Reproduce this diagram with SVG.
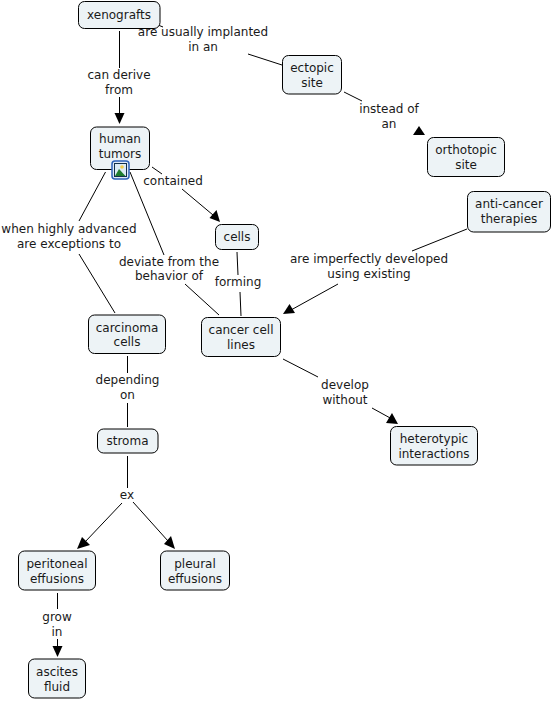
<svg xmlns="http://www.w3.org/2000/svg" width="553" height="701" viewBox="0 0 553 701">
<style>
text{font-family:"DejaVu Sans",Verdana,sans-serif;font-size:12px;fill:#1a1a1a;text-anchor:middle}
.n rect{fill:#edf3f6;stroke:#000;stroke-width:1}
#c line{stroke:#000;stroke-width:1}
#c polygon{fill:#000}
</style>
<rect width="553" height="701" fill="#fff"/>
<g id="c">
<line x1="119.500" y1="31" x2="119.500" y2="68"/>
<line x1="119.500" y1="97" x2="119.500" y2="114"/>
<polygon points="114.500,113 124.500,113 119.500,124"/>
<line x1="158" y1="25" x2="163" y2="27"/>
<line x1="248" y1="54" x2="282" y2="65"/>
<line x1="344" y1="92" x2="362" y2="101"/>
<polygon points="413,135 425,135 419,126"/>
<line x1="152" y1="167" x2="162" y2="174"/>
<line x1="182" y1="189" x2="213" y2="215"/>
<polygon points="209.500,218 216.500,210 220,222"/>
<line x1="105.500" y1="172" x2="79" y2="221"/>
<line x1="79" y1="254" x2="115" y2="313"/>
<line x1="130" y1="172" x2="164" y2="255"/>
<line x1="185" y1="284" x2="219" y2="315"/>
<line x1="237" y1="252" x2="238" y2="275"/>
<line x1="240" y1="292" x2="241" y2="316"/>
<line x1="467" y1="229" x2="412" y2="251"/>
<line x1="338" y1="284" x2="291" y2="310"/>
<polygon points="283,314 295,313 289.500,304"/>
<line x1="283" y1="359" x2="318" y2="377"/>
<line x1="372" y1="408" x2="392" y2="419"/>
<polygon points="398,424 386,423 392,413"/>
<line x1="127.500" y1="356" x2="127.500" y2="373"/>
<line x1="127.500" y1="403" x2="127.500" y2="427"/>
<line x1="127.500" y1="456" x2="127.500" y2="488"/>
<line x1="122" y1="503" x2="85" y2="542"/>
<polygon points="77,549 82,537 90,545"/>
<line x1="133" y1="502" x2="168" y2="541"/>
<polygon points="175,549 164,544 171,536"/>
<line x1="57.500" y1="593" x2="57.500" y2="609"/>
<line x1="57.500" y1="639" x2="57.500" y2="648"/>
<polygon points="52.500,646 62.500,646 57.500,657"/>
</g>
<g id="xenografts" class="n"><rect x="78.500" y="1.500" width="81.500" height="27" rx="6"/><text x="119" y="18.500">xenografts</text></g>
<g id="human-tumors" class="n"><rect x="90.500" y="127" width="59" height="42.500" rx="6"/><text x="120" y="143">human</text><text x="120" y="157.500">tumors</text>
<rect x="112" y="161" width="17" height="18" rx="3" style="fill:#dfe9f7;stroke:#2d62b8;stroke-width:1.500"/>
<rect x="114.500" y="163.500" width="12" height="13" style="fill:#dcebf5;stroke:#12304a;stroke-width:1"/>
<circle cx="122" cy="167" r="1.800" style="fill:#f3cd4a"/>
<polygon points="115,176 119,169 125.500,176" style="fill:#1f7d2f"/></g>
<g id="ectopic-site" class="n"><rect x="282.500" y="55.500" width="59" height="38.500" rx="6"/><text x="312" y="72">ectopic</text><text x="312" y="86.500">site</text></g>
<g id="orthotopic-site" class="n"><rect x="427.500" y="137.500" width="77" height="39" rx="6"/><text x="466" y="154">orthotopic</text><text x="466" y="169">site</text></g>
<g id="anti-cancer-therapies" class="n"><rect x="467.500" y="191.500" width="83" height="40.500" rx="6"/><text x="509" y="208">anti-cancer</text><text x="509" y="222.500">therapies</text></g>
<g id="cells" class="n"><rect x="215.500" y="224.500" width="43" height="25" rx="6"/><text x="237" y="241">cells</text></g>
<g id="cancer-cell-lines" class="n"><rect x="201.500" y="317.500" width="79" height="39" rx="6"/><text x="241" y="334">cancer cell</text><text x="241" y="348.500">lines</text></g>
<g id="heterotypic-interactions" class="n"><rect x="390.500" y="426.500" width="87" height="38.500" rx="6"/><text x="434" y="443">heterotypic</text><text x="434" y="458">interactions</text></g>
<g id="carcinoma-cells" class="n"><rect x="88.500" y="315" width="77" height="38.500" rx="6"/><text x="127" y="331.500">carcinoma</text><text x="127" y="346">cells</text></g>
<g id="stroma" class="n"><rect x="97.500" y="429" width="60.500" height="24" rx="6"/><text x="127.500" y="445">stroma</text></g>
<g id="peritoneal-effusions" class="n"><rect x="18.500" y="551" width="77" height="39" rx="6"/><text x="57" y="568">peritoneal</text><text x="57" y="582.500">effusions</text></g>
<g id="pleural-effusions" class="n"><rect x="160.500" y="551" width="69" height="39" rx="6"/><text x="195" y="568">pleural</text><text x="195" y="582.500">effusions</text></g>
<g id="ascites-fluid" class="n"><rect x="28.500" y="659" width="57" height="39" rx="6"/><text x="57" y="676">ascites</text><text x="57" y="690.500">fluid</text></g>
<g id="labels">
<text x="203" y="36">are usually implanted</text><text x="203" y="51">in an</text>
<text x="119" y="79">can derive</text><text x="119" y="94">from</text>
<text x="389" y="113">instead of</text><text x="389" y="128">an</text>
<text x="173" y="185">contained</text>
<text x="69" y="233">when highly advanced</text><text x="69" y="248">are exceptions to</text>
<text x="169" y="266">deviate from the</text><text x="169" y="280">behavior of</text>
<text x="238" y="286">forming</text>
<text x="369" y="263">are imperfectly developed</text><text x="369" y="278">using existing</text>
<text x="345" y="389">develop</text><text x="345" y="404">without</text>
<text x="127.500" y="384">depending</text><text x="127.500" y="399">on</text>
<text x="127" y="499">ex</text>
<text x="57" y="621">grow</text><text x="57" y="636">in</text>
</g>
</svg>
